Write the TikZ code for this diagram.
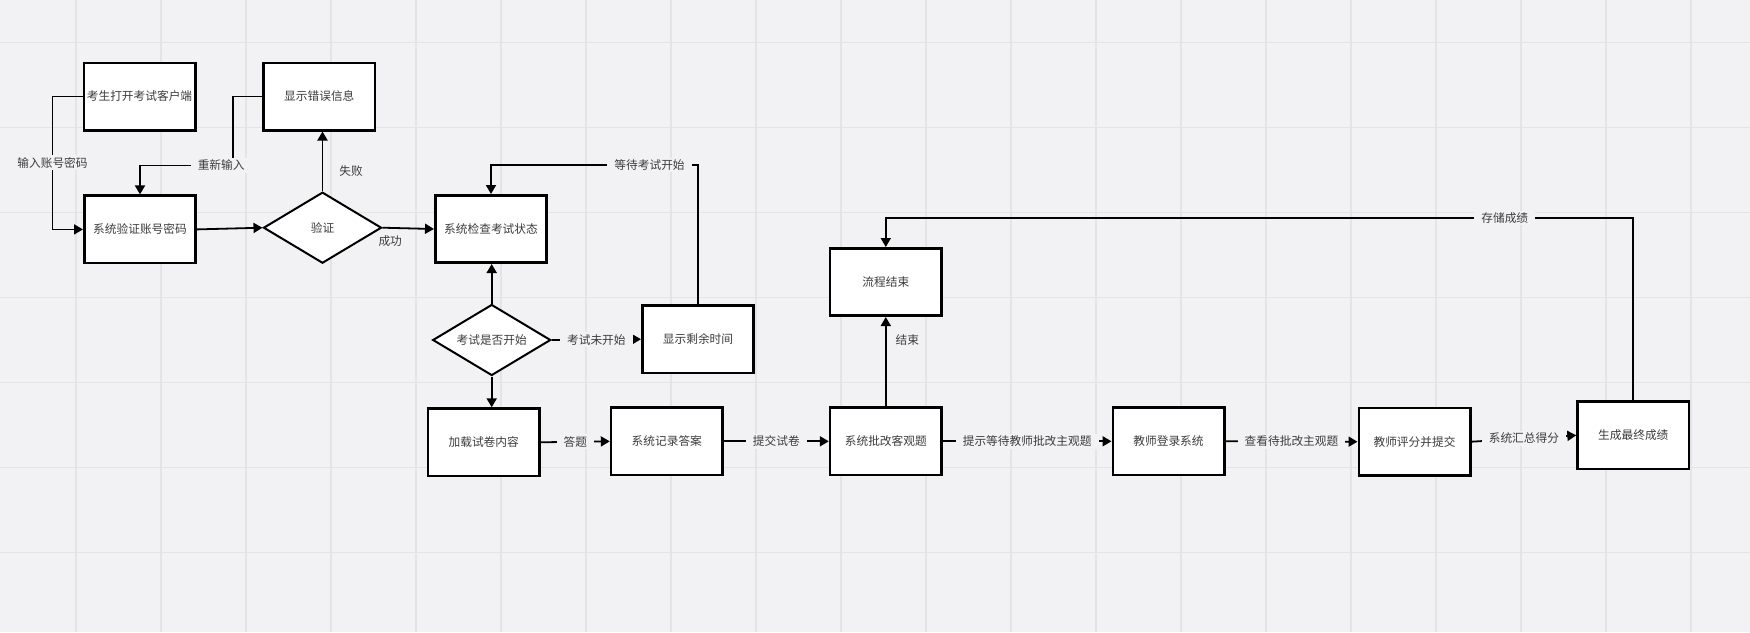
\documentclass[tikz,border=0pt]{standalone}
\usepackage{fontspec}
\setmainfont{Noto Sans CJK SC}
\usepackage{xcolor}
\usepackage{tikz}
\usetikzlibrary{arrows.meta, shapes.geometric}
\definecolor{canvasbg}{RGB}{242, 242, 244}
\definecolor{gridgray}{RGB}{228, 228, 231}
\definecolor{inkgray}{RGB}{60, 60, 60}

\begin{document}
\begin{tikzpicture}[x=1pt, y=-1pt, >={Triangle[length=9pt, width=10pt]},
  font=\fontsize{11.7}{14}\selectfont,
  procbox/.style={draw, line width=2.6pt, fill=white, text=inkgray,
    minimum width=111.4pt, minimum height=67.4pt, inner sep=0pt},
  decide/.style={diamond, aspect=1.66, draw, line width=2pt, fill=white, text=inkgray,
    minimum width=118pt, minimum height=71pt, inner sep=0pt},
  link/.style={->, line width=1.8pt},
  elabel/.style={fill=canvasbg, text=inkgray, inner xsep=7pt, inner ysep=2pt},
  sidelabel/.style={text=inkgray, inner sep=1pt},
  gridline/.style={gridgray, line width=1.5pt}]
  \useasboundingbox (0,0) rectangle (1750,632);
  \fill[canvasbg] (0,0) rectangle (1750,632);
  % Background grid
  \foreach \gx in {76,161,...,1750}
    \draw[gridline] (\gx,0) -- (\gx,632);
  \foreach \gy in {42.5,127.5,...,632}
    \draw[gridline] (0,\gy) -- (1750,\gy);

  % Login part
  \node[procbox] (open) at (139.5,96.5) {考生打开考试客户端};
  \node[procbox] (error) at (319.3,96.5) {显示错误信息};
  \node[procbox] (verify) at (140,229.4) {系统验证账号密码};
  \node[decide] (check) at (322.5,227.7) {验证};
  \node[procbox] (status) at (491,229) {系统检查考试状态};
  \node[decide] (started) at (491.7,340) {考试是否开始};
  \node[procbox] (remain) at (698,339.2) {显示剩余时间};
  % Exam and grading row
  \node[procbox] (load) at (483.7,442.3) {加载试卷内容};
  \node[procbox] (record) at (666.8,441.3) {系统记录答案};
  \node[procbox] (auto) at (885.8,441.3) {系统批改客观题};
  \node[procbox] (finish) at (885.8,282) {流程结束};
  \node[procbox] (login) at (1168.5,441.3) {教师登录系统};
  \node[procbox] (grade) at (1414.5,441.7) {教师评分并提交};
  \node[procbox] (final) at (1633.3,435.3) {生成最终成绩};

  % Connectors
  \draw[link] (open.west) -- ++(-30,0)
    |- node[elabel, pos=0.25] {输入账号密码} (verify.west);
  \draw[link] (error.west) -- ++(-29,0)
    |- node[elabel, pos=0.565] {重新输入} ([yshift=29pt]verify.north) -- (verify.north);
  \draw[link] (verify.east) -- (check.west);
  \draw[link] (check.north) -- (check.north |- error.south)
    node[sidelabel, pos=0.33, right=15pt] {失败};
  \draw[link] (check.east) -- (status.west)
    node[sidelabel, pos=0.15, below=6pt] {成功};
  \draw[link] (started.north) -- (started.north |- status.south);
  \draw[link] (started.east) -- node[elabel] {考试未开始} (remain.west);
  \draw[link] (remain.north)
    |- node[elabel, pos=0.617] {等待考试开始} ([yshift=29pt]status.north) -- (status.north);
  \draw[link] (started.south) -- (started.south |- load.north);
  \draw[link] (load.east) -- node[elabel] {答题} (record.west);
  \draw[link] (record.east) -- node[elabel] {提交试卷} (auto.west);
  \draw[link] (auto.north) -- (finish.south)
    node[sidelabel, pos=0.74, right=8pt] {结束};
  \draw[link] (auto.east) -- node[elabel] {提示等待教师批改主观题} (login.west);
  \draw[link] (login.east) -- node[elabel] {查看待批改主观题} (grade.west);
  \draw[link] (grade.east) -- node[elabel] {系统汇总得分} (final.west);
  \draw[link] (final.north)
    |- node[elabel, pos=0.586] {存储成绩} ([yshift=29pt]finish.north) -- (finish.north);
\end{tikzpicture}
\end{document}
